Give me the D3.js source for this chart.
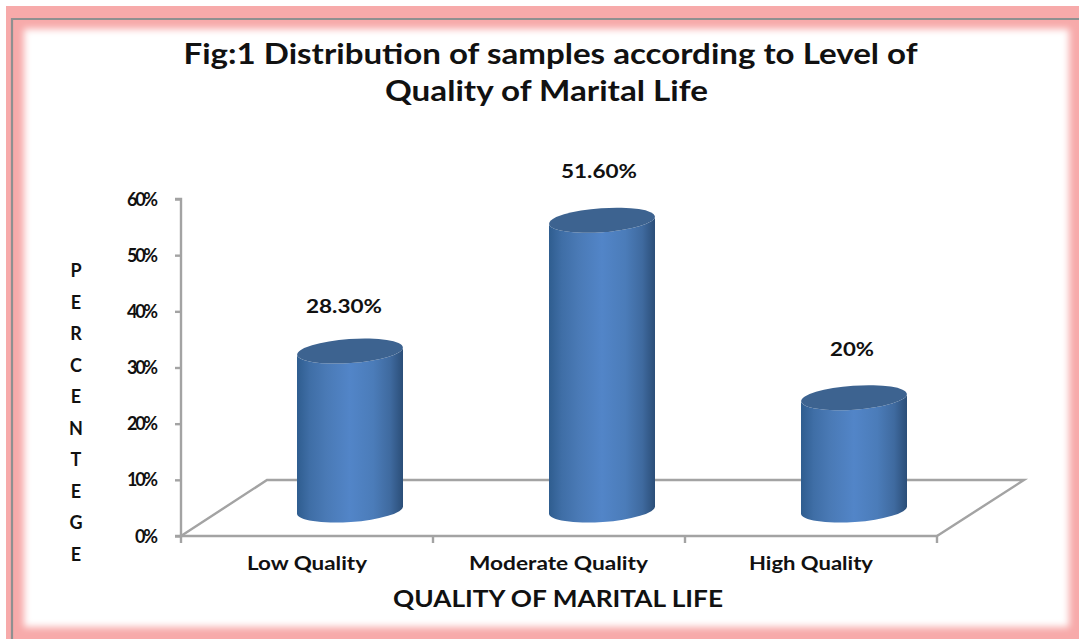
<!DOCTYPE html>
<html><head><meta charset="utf-8">
<script src="https://cdn.jsdelivr.net/npm/d3@7/dist/d3.min.js"></script>
<style>html,body{margin:0;padding:0;background:#fff}svg{display:block}text{font-family:Lato,"Open Sans",sans-serif;fill:#111;font-weight:700}</style>
</head><body><svg id="c" width="1079" height="639"></svg>
<script>
const categories=["Low Quality","Moderate Quality","High Quality"];
const values=[28.3,51.6,20];
const valueLabels=["28.30%","51.60%","20%"];
const yTicks=[0,10,20,30,40,50,60];
const titleLines=["Fig:1 Distribution of samples according to Level of","Quality of Marital Life"];
const yTitle=["P","E","R","C","E","N","T","E","G","E"];
const xTitle="QUALITY OF MARITAL LIFE";

const svg=d3.select("#c");
const defs=svg.append("defs");
const y=d3.scaleLinear().domain([0,60]).range([536,199]);
const x=d3.scaleBand().domain(categories).range([181,937]);
const px=v=>y(0)-y(v);
const dx=86,dy=56,rx=53,ry=12,tilt=-4,baseY=510;

// frame
const blur=defs.append("filter").attr("id","soft").attr("x","-5%").attr("y","-5%").attr("width","110%").attr("height","110%");
blur.append("feGaussianBlur").attr("stdDeviation",3.5);
svg.append("rect").attr("x",6).attr("y",6).attr("width",1073).attr("height",633).attr("fill","#f7aaaa");
svg.append("rect").attr("x",24).attr("y",29).attr("width",1045).attr("height",598).attr("fill","#fff").attr("filter","url(#soft)");
svg.append("path").attr("d","M12,1079V19H1079").attr("fill","none").attr("stroke","#8f9090").attr("stroke-width",2.2);

// title
svg.selectAll("text.t").data(titleLines).join("text").attr("class","t")
  .attr("x",(d,i)=>i?546.5:550.5).attr("y",(d,i)=>i?101:64).attr("text-anchor","middle")
  .attr("font-size",29).attr("textLength",(d,i)=>i?323:734).attr("lengthAdjust","spacingAndGlyphs").text(d=>d);

// floor and axes
const axisCol="#a3a3a3";
const floor=svg.append("g").attr("fill","none").attr("stroke",axisCol).attr("stroke-width",2.4);
floor.append("path").attr("d",`M${x.range()[0]},${y(0)}L${x.range()[0]+dx},${y(0)-dy}H${x.range()[1]+dx+1}L${x.range()[1]},${y(0)}`);
const ax=svg.append("g").attr("transform",`translate(${x.range()[0]},0)`)
  .call(d3.axisLeft(y).tickValues(yTicks).tickSize(6).tickFormat(d=>d+"%"));
ax.selectAll("path,line").attr("stroke",axisCol).attr("stroke-width",2.4);
ax.selectAll("text").attr("font-size",18).attr("fill","#111").attr("font-family","Lato,sans-serif").attr("x",-23).attr("dy","0.34em").attr("textLength",d=>d===0?23:31).attr("lengthAdjust","spacing");
ax.select(".domain").attr("d",`M-6,${y(60)}H0V${y(0)}H-6`);
const bx=svg.append("g").attr("transform",`translate(0,${y(0)})`)
  .call(d3.axisBottom(x).tickValues([]).tickSize(0));
bx.select(".domain").attr("d",`M${x.range()[0]},7V0H${x.range()[1]}V7`).attr("stroke",axisCol).attr("stroke-width",2.4).attr("fill","none");
svg.append("g").selectAll("line").data(categories.slice(1)).join("line")
  .attr("x1",d=>x(d)).attr("x2",d=>x(d)).attr("y1",y(0)).attr("y2",y(0)+7).attr("stroke",axisCol).attr("stroke-width",2.4);

// gradients
const g=defs.append("linearGradient").attr("id","body");
[[0,"#2f5d8f"],[0.12,"#3f6ea6"],[0.28,"#4a7ab6"],[0.5,"#5285c8"],[0.72,"#4b7cb9"],[0.88,"#3f6a9f"],[1,"#2b4e78"]]
 .forEach(s=>g.append("stop").attr("offset",s[0]).attr("stop-color",s[1]));

// cylinders
const off=rx*Math.sin(-tilt*Math.PI/180);
const cx=[350,602,854];
const cyl=svg.append("g").selectAll("g").data(categories).join("g")
  .attr("transform",(d,i)=>`translate(${cx[i]},${baseY})`);
cyl.append("path").attr("fill","url(#body)").attr("d",(d,i)=>{
  const h=px(values[i]);
  return `M${-rx},${off}A${rx},${ry} ${tilt} 0 0 ${rx},${-off}V${-off-h}A${rx},${ry} ${tilt} 0 1 ${-rx},${off-h}Z`;
});
cyl.append("ellipse").attr("rx",rx).attr("ry",ry).attr("cy",(d,i)=>-px(values[i]))
  .attr("transform",(d,i)=>`rotate(${tilt} 0 ${-px(values[i])})`).attr("fill","#3d6390");

// value labels
const labelY=[307,172,350];
svg.selectAll("text.v").data(valueLabels).join("text").attr("class","v")
  .attr("x",(d,i)=>[344,599,852][i]).attr("y",(d,i)=>labelY[i]+6).attr("text-anchor","middle")
  .attr("font-size",19).attr("textLength",(d,i)=>[76,76,44][i]).attr("lengthAdjust","spacingAndGlyphs").style("font-weight",700).text(d=>d);

// category labels
svg.selectAll("text.k").data(categories).join("text").attr("class","k")
  .attr("x",(d,i)=>[307,558.5,811][i]).attr("y",570).attr("text-anchor","middle").attr("font-size",19)
  .attr("textLength",(d,i)=>[120,179,124][i]).attr("lengthAdjust","spacingAndGlyphs").text(d=>d);

// axis titles
svg.selectAll("text.yt").data(yTitle).join("text").attr("class","yt")
  .attr("x",76).attr("y",(d,i)=>277+i*31.5).attr("text-anchor","middle").attr("font-size",18).text(d=>d);
svg.append("text").attr("x",558).attr("y",607).attr("text-anchor","middle").attr("font-size",23)
  .attr("textLength",330).attr("lengthAdjust","spacingAndGlyphs").text(xTitle);
</script></body></html>
